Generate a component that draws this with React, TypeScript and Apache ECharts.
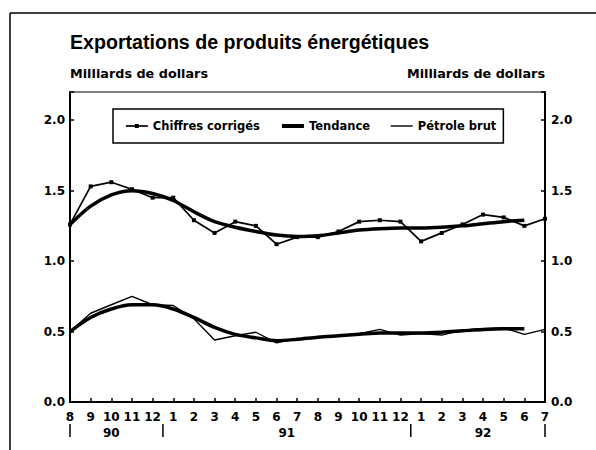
import React, { useEffect, useRef } from 'react';
import * as echarts from 'echarts';

const months = ['8', '9', '10', '11', '12', '1', '2', '3', '4', '5', '6', '7', '8', '9', '10', '11', '12', '1', '2', '3', '4', '5', '6', '7'];
const yearLabels = ['90', '91', '92'];
const yearLabelIdx = [2, 10.5, 20];
const yearSepIdx = [0, 4.5, 16.5, 23];

const chiffresCorriges = [1.26, 1.53, 1.56, 1.51, 1.45, 1.45, 1.29, 1.2, 1.28, 1.25, 1.12, 1.17, 1.17, 1.21, 1.28, 1.29, 1.28, 1.14, 1.2, 1.26, 1.33, 1.31, 1.25, 1.3];
const tendanceTotal = [1.26, 1.39, 1.47, 1.5, 1.48, 1.43, 1.35, 1.28, 1.24, 1.21, 1.185, 1.175, 1.18, 1.2, 1.22, 1.23, 1.235, 1.235, 1.24, 1.25, 1.265, 1.28, 1.29, null];
const petroleBrut = [0.5, 0.63, 0.69, 0.75, 0.69, 0.685, 0.59, 0.44, 0.47, 0.495, 0.42, 0.45, 0.455, 0.47, 0.485, 0.515, 0.475, 0.485, 0.475, 0.51, 0.52, 0.525, 0.48, 0.515];
const tendancePetrole = [0.5, 0.6, 0.66, 0.69, 0.69, 0.66, 0.6, 0.53, 0.48, 0.455, 0.435, 0.445, 0.46, 0.47, 0.48, 0.49, 0.49, 0.49, 0.495, 0.505, 0.515, 0.52, 0.52, null];

const yMin = 0;
const yMax = 2.2;
const yInterval = 0.5;

const SMALL = 'DejaVu Sans';

export default function App() {
  const ref = useRef<HTMLDivElement>(null);

  useEffect(() => {
    if (!ref.current) return;
    const chart = echarts.init(ref.current, undefined, { renderer: 'svg' });

    const axisLabel = {
      color: '#000',
      fontFamily: SMALL,
      fontWeight: 'bold' as const,
      fontSize: 12,
      formatter: (v: number) => (v > 2.05 ? '' : v.toFixed(1)),
    };
    const nameStyle = {
      color: '#000',
      fontFamily: SMALL,
      fontWeight: 'bold' as const,
      fontSize: 12.8,
    };

    const option: any = {
      animation: false,
      backgroundColor: '#fff',
      title: {
        text: 'Exportations de produits énergétiques',
        left: 70,
        top: 32,
        padding: 0,
        textStyle: { fontFamily: 'Liberation Sans', fontWeight: 'bold', fontSize: 19.6, color: '#000' },
      },
      legend: {
        left: 113,
        top: 109,
        padding: [10, 7, 10, 12],
        itemGap: 20,
        itemWidth: 22,
        itemHeight: 5,
        backgroundColor: '#fff',
        borderColor: '#000',
        borderWidth: 1.5,
        borderRadius: 0,
        textStyle: { fontFamily: SMALL, fontWeight: 'bold', fontSize: 11.5, color: '#000', lineHeight: 14 },
        data: [
          { name: 'Chiffres corrigés', lineStyle: { width: 1.7, color: '#000' } },
          { name: 'Tendance', itemStyle: { opacity: 0 }, lineStyle: { width: 4, color: '#000' } },
          { name: 'Pétrole brut', itemStyle: { opacity: 0 }, lineStyle: { width: 1.4, color: '#000' } },
        ],
      },
      grid: {
        left: 70,
        right: 51,
        top: 92,
        bottom: 48,
        show: true,
        borderColor: '#000',
        borderWidth: 1.2,
        backgroundColor: 'transparent',
      },
      xAxis: {
        type: 'category',
        data: months,
        boundaryGap: false,
        axisLine: { lineStyle: { color: '#000', width: 2 } },
        axisTick: { inside: true, length: 4, interval: 0, lineStyle: { color: '#000', width: 1.5 } },
        axisLabel: { color: '#000', fontFamily: SMALL, fontWeight: 'bold', fontSize: 12, margin: 9, interval: 0 },
        splitLine: { show: false },
      },
      yAxis: [
        {
          type: 'value',
          position: 'left',
          min: yMin,
          max: yMax,
          interval: yInterval,
          name: 'Milliards de dollars',
          nameLocation: 'end',
          nameGap: 12,
          nameTextStyle: { ...nameStyle, align: 'left' },
          axisLine: { show: true, lineStyle: { color: '#000', width: 2 } },
          axisTick: { show: true, inside: true, length: 4, lineStyle: { color: '#000', width: 1.5 } },
          axisLabel: { ...axisLabel, margin: 5 },
          splitLine: { show: false },
        },
        {
          type: 'value',
          position: 'right',
          min: yMin,
          max: yMax,
          interval: yInterval,
          name: 'Milliards de dollars',
          nameLocation: 'end',
          nameGap: 12,
          nameTextStyle: { ...nameStyle, align: 'right' },
          axisLine: { show: true, lineStyle: { color: '#000', width: 2 } },
          axisTick: { show: true, inside: true, length: 4, lineStyle: { color: '#000', width: 1.5 } },
          axisLabel: { ...axisLabel, margin: 6 },
          splitLine: { show: false },
        },
      ],
      series: [
        {
          name: 'Chiffres corrigés',
          type: 'line',
          data: chiffresCorriges,
          symbol: 'rect',
          symbolSize: 4,
          showSymbol: true,
          lineStyle: { color: '#000', width: 1.7 },
          itemStyle: { color: '#000' },
          z: 3,
        },
        {
          name: 'Tendance',
          type: 'line',
          data: tendanceTotal,
          symbol: 'none',
          smooth: 0.3,
          lineStyle: { color: '#000', width: 3.5 },
          itemStyle: { color: '#000', opacity: 0 },
          z: 2,
        },
        {
          name: 'Pétrole brut',
          type: 'line',
          data: petroleBrut,
          symbol: 'none',
          lineStyle: { color: '#000', width: 1.4 },
          itemStyle: { color: '#000', opacity: 0 },
          z: 3,
        },
        {
          name: 'Tendance',
          type: 'line',
          data: tendancePetrole,
          symbol: 'none',
          smooth: 0.3,
          lineStyle: { color: '#000', width: 3.5 },
          itemStyle: { color: '#000', opacity: 0 },
          z: 2,
        },
      ],
    };

    chart.setOption(option);

    const xPix = (i: number) => {
      const lo = Math.floor(i);
      const hi = Math.ceil(i);
      const a = chart.convertToPixel({ xAxisIndex: 0 }, lo) as number;
      const b = chart.convertToPixel({ xAxisIndex: 0 }, hi) as number;
      return a + (b - a) * (i - lo);
    };
    const y0 = chart.convertToPixel({ yAxisIndex: 0 }, 0) as number;

    const graphics: any[] = [
      { type: 'line', shape: { x1: 10, y1: 13, x2: 596, y2: 13 }, style: { stroke: '#000', lineWidth: 1.5 } },
      { type: 'line', shape: { x1: 10, y1: 13, x2: 10, y2: 450 }, style: { stroke: '#000', lineWidth: 1.5 } },
    ];
    yearSepIdx.forEach((idx) => {
      const x = xPix(idx);
      graphics.push({
        type: 'line',
        shape: { x1: x, y1: y0 + 22, x2: x, y2: y0 + 35 },
        style: { stroke: '#000', lineWidth: 1.5 },
      });
    });
    yearLabels.forEach((lab, k) => {
      graphics.push({
        type: 'text',
        x: xPix(yearLabelIdx[k]),
        y: y0 + 31,
        style: {
          text: lab,
          fill: '#000',
          font: `bold 12px "${SMALL}"`,
          align: 'center',
          verticalAlign: 'middle',
        },
      });
    });
    chart.setOption({ graphic: graphics });

    return () => chart.dispose();
  }, []);

  return <div ref={ref} style={{ position: 'absolute', left: 0, top: 0, width: 596, height: 450 }} />;
}
